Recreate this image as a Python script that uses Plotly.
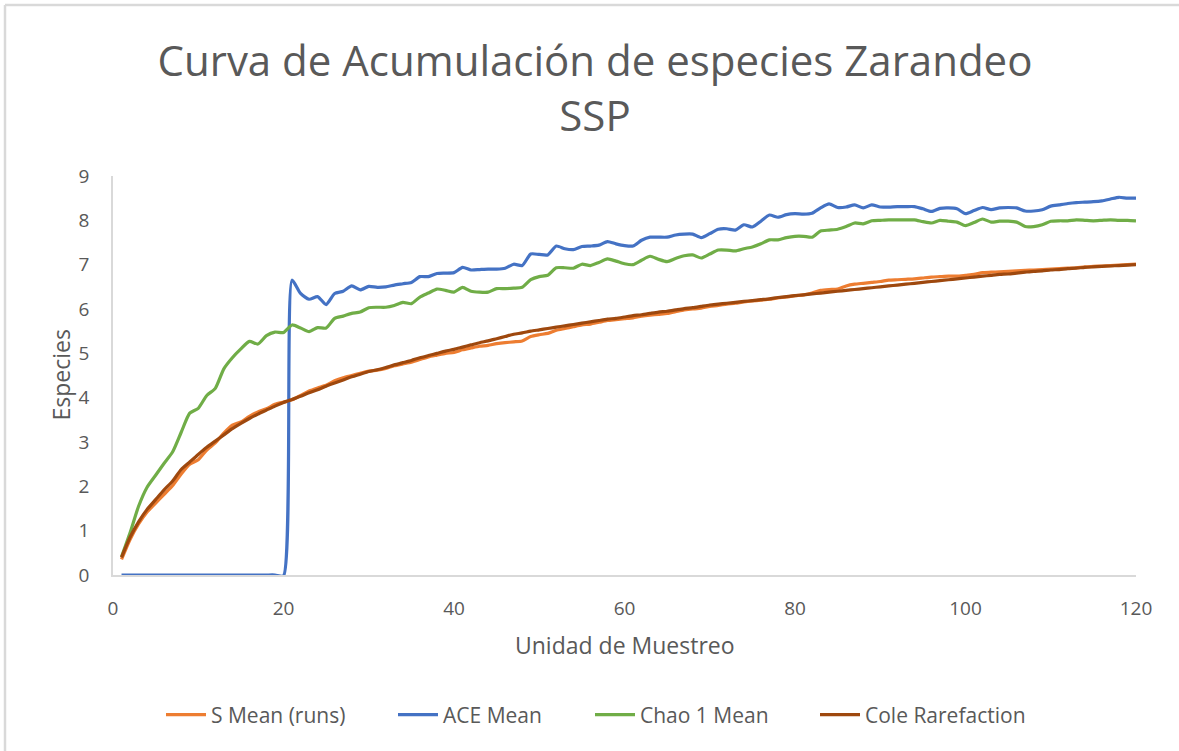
import plotly.graph_objects as go

units = list(range(1, 121))

s_mean = [0.35, 0.80, 1.15, 1.42, 1.62, 1.82, 2.02, 2.28, 2.50, 2.60,
          2.82, 2.98, 3.20, 3.38, 3.45, 3.58, 3.68, 3.75, 3.85, 3.90,
          3.95, 4.05, 4.15, 4.22, 4.28, 4.38, 4.45, 4.50, 4.55, 4.60,
          4.62, 4.66, 4.72, 4.76, 4.80, 4.86, 4.92, 4.96, 5.00, 5.02,
          5.08, 5.12, 5.16, 5.18, 5.22, 5.24, 5.26, 5.28, 5.38, 5.42,
          5.45, 5.52, 5.56, 5.60, 5.64, 5.66, 5.70, 5.74, 5.76, 5.78,
          5.80, 5.84, 5.86, 5.88, 5.90, 5.94, 5.98, 6.00, 6.02, 6.06,
          6.08, 6.11, 6.13, 6.16, 6.18, 6.20, 6.22, 6.25, 6.27, 6.30,
          6.32, 6.36, 6.42, 6.44, 6.45, 6.52, 6.56, 6.58, 6.60, 6.62,
          6.65, 6.66, 6.67, 6.68, 6.70, 6.72, 6.73, 6.74, 6.74, 6.76,
          6.78, 6.82, 6.83, 6.84, 6.85, 6.86, 6.87, 6.88, 6.89, 6.90,
          6.91, 6.92, 6.93, 6.95, 6.96, 6.97, 6.98, 6.99, 7.00, 7.01]

ace_mean = [0, 0, 0, 0, 0, 0, 0, 0, 0, 0,
            0, 0, 0, 0, 0, 0, 0, 0, 0, -0.02,
            6.65, 6.35, 6.22, 6.28, 6.10, 6.35, 6.40, 6.52, 6.43, 6.51,
            6.49, 6.50, 6.54, 6.57, 6.60, 6.73, 6.73, 6.80, 6.81, 6.82,
            6.94, 6.88, 6.89, 6.90, 6.90, 6.92, 7.01, 6.98, 7.24, 7.23,
            7.22, 7.42, 7.36, 7.34, 7.41, 7.42, 7.44, 7.52, 7.47, 7.43,
            7.42, 7.55, 7.62, 7.62, 7.62, 7.67, 7.69, 7.69, 7.61, 7.70,
            7.80, 7.81, 7.78, 7.90, 7.85, 7.98, 8.12, 8.07, 8.13, 8.15,
            8.14, 8.16, 8.28, 8.37, 8.29, 8.30, 8.35, 8.28, 8.35, 8.30,
            8.30, 8.31, 8.31, 8.31, 8.26, 8.20, 8.27, 8.28, 8.26, 8.15,
            8.22, 8.29, 8.24, 8.28, 8.29, 8.28, 8.21, 8.21, 8.24, 8.32,
            8.35, 8.38, 8.40, 8.41, 8.42, 8.44, 8.48, 8.52, 8.50, 8.50]

chao1_mean = [0.41, 0.95, 1.55, 1.98, 2.25, 2.52, 2.78, 3.22, 3.65, 3.76,
              4.05, 4.21, 4.65, 4.90, 5.10, 5.27, 5.21, 5.40, 5.48, 5.47,
              5.64, 5.57, 5.49, 5.58, 5.57, 5.79, 5.84, 5.90, 5.93, 6.03,
              6.04, 6.04, 6.08, 6.15, 6.12, 6.27, 6.36, 6.45, 6.42, 6.38,
              6.49, 6.40, 6.38, 6.38, 6.46, 6.46, 6.47, 6.49, 6.66, 6.73,
              6.76, 6.93, 6.93, 6.92, 7.01, 6.98, 7.05, 7.13, 7.08, 7.02,
              7.00, 7.10, 7.19, 7.12, 7.07, 7.14, 7.20, 7.22, 7.15, 7.24,
              7.33, 7.33, 7.31, 7.36, 7.40, 7.47, 7.56, 7.56, 7.61, 7.64,
              7.64, 7.62, 7.76, 7.78, 7.80, 7.86, 7.94, 7.92, 7.99, 8.00,
              8.01, 8.01, 8.01, 8.01, 7.97, 7.94, 8.00, 7.98, 7.96, 7.88,
              7.95, 8.03, 7.96, 7.98, 7.98, 7.96, 7.86, 7.86, 7.90, 7.98,
              7.99, 7.99, 8.01, 8.00, 7.99, 8.00, 8.01, 8.00, 8.00, 7.99]

cole_rarefaction = [0.40, 0.85, 1.20, 1.48, 1.70, 1.92, 2.12, 2.38, 2.55, 2.72,
                    2.88, 3.02, 3.16, 3.30, 3.42, 3.53, 3.63, 3.72, 3.81, 3.89,
                    3.96, 4.03, 4.11, 4.18, 4.26, 4.33, 4.40, 4.47, 4.53, 4.59,
                    4.63, 4.68, 4.74, 4.79, 4.84, 4.90, 4.95, 5.00, 5.05, 5.09,
                    5.14, 5.19, 5.24, 5.28, 5.33, 5.38, 5.43, 5.46, 5.50, 5.53,
                    5.56, 5.59, 5.62, 5.65, 5.68, 5.71, 5.74, 5.77, 5.79, 5.82,
                    5.85, 5.87, 5.90, 5.93, 5.95, 5.98, 6.01, 6.03, 6.06, 6.09,
                    6.11, 6.13, 6.15, 6.17, 6.19, 6.21, 6.23, 6.26, 6.28, 6.30,
                    6.32, 6.34, 6.36, 6.38, 6.40, 6.42, 6.44, 6.46, 6.48, 6.50,
                    6.52, 6.54, 6.56, 6.58, 6.60, 6.62, 6.64, 6.66, 6.68, 6.70,
                    6.72, 6.74, 6.76, 6.78, 6.79, 6.81, 6.83, 6.85, 6.86, 6.88,
                    6.89, 6.91, 6.92, 6.94, 6.95, 6.96, 6.97, 6.98, 6.99, 7.00]

x_ticks = [0, 20, 40, 60, 80, 100, 120]
y_ticks = [0, 1, 2, 3, 4, 5, 6, 7, 8, 9]

series = [
    ("S Mean (runs)", s_mean, "#ED7D31", 177),
    ("ACE Mean", ace_mean, "#4472C4", 142),
    ("Chao 1 Mean", chao1_mean, "#70AD47", 170),
    ("Cole Rarefaction", cole_rarefaction, "#9E480E", None),
]

FONT = "Open Sans"
GRAY = "#595959"
W, H = 1179, 751
L, R, T, B = 113, 43, 176, 176
PW, PH = W - L - R, H - T - B

fig = go.Figure()
for name, vals, color, lw in series:
    kw = {}
    if lw:
        kw["legendwidth"] = lw
    fig.add_trace(go.Scatter(
        x=units, y=vals, mode="lines", name=name,
        line=dict(color=color, width=3.2, shape="spline", smoothing=0.6),
        **kw,
    ))

fig.update_layout(
    width=W, height=H,
    paper_bgcolor="white", plot_bgcolor="white",
    margin=dict(l=L, r=R, t=T, b=B),
    font=dict(family=FONT, color=GRAY, size=19),
    title=dict(
        text="Curva de Acumulación de especies Zarandeo<br>SSP",
        x=595 / W, xanchor="center", xref="container",
        y=1 - 76 / H, yanchor="middle", yref="container",
        font=dict(family=FONT, size=42, color=GRAY),
    ),
    showlegend=True,
    legend=dict(
        orientation="h", x=161 / W, xanchor="left", xref="container",
        y=1 - 715 / H, yanchor="middle", yref="container",
        font=dict(family=FONT, size=21, color=GRAY),
        itemwidth=40, traceorder="normal",
    ),
    xaxis=dict(
        range=[0, 120], tickmode="array", tickvals=x_ticks,
        showgrid=False, zeroline=False, showline=True,
        linecolor="#D9D9D9", linewidth=1.5, ticks="",
        ticklabelstandoff=15, tickfont=dict(size=19, color=GRAY),
    ),
    yaxis=dict(
        range=[0, 9], tickmode="array", tickvals=y_ticks,
        showgrid=False, zeroline=False, showline=True,
        linecolor="#D9D9D9", linewidth=1.5, ticks="",
        ticklabelstandoff=18, tickfont=dict(size=19, color=GRAY),
    ),
    annotations=[
        dict(text="Unidad de Muestreo", xref="paper", yref="paper",
             x=0.5, y=-70 / PH, xanchor="center", yanchor="middle",
             showarrow=False, font=dict(family=FONT, size=23, color=GRAY)),
        dict(text="Especies", xref="paper", yref="paper",
             x=-53 / PW, y=0.5, xanchor="center", yanchor="middle",
             textangle=-90, showarrow=False,
             font=dict(family=FONT, size=23, color=GRAY)),
    ],
    shapes=[
        dict(type="line", xref="paper", yref="paper",
             x0=-(L - 5) / PW, x1=(W - L) / PW, y0=1 + (T - 5) / PH, y1=1 + (T - 5) / PH,
             line=dict(color="#D9D9D9", width=2.5)),
        dict(type="line", xref="paper", yref="paper",
             x0=-(L - 5) / PW, x1=-(L - 5) / PW, y0=1 + (T - 5) / PH, y1=-B / PH,
             line=dict(color="#D9D9D9", width=2.5)),
    ],
)

fig.write_html("out.html", config={"displayModeBar": False},
               post_script="document.body.style.margin='0';")
